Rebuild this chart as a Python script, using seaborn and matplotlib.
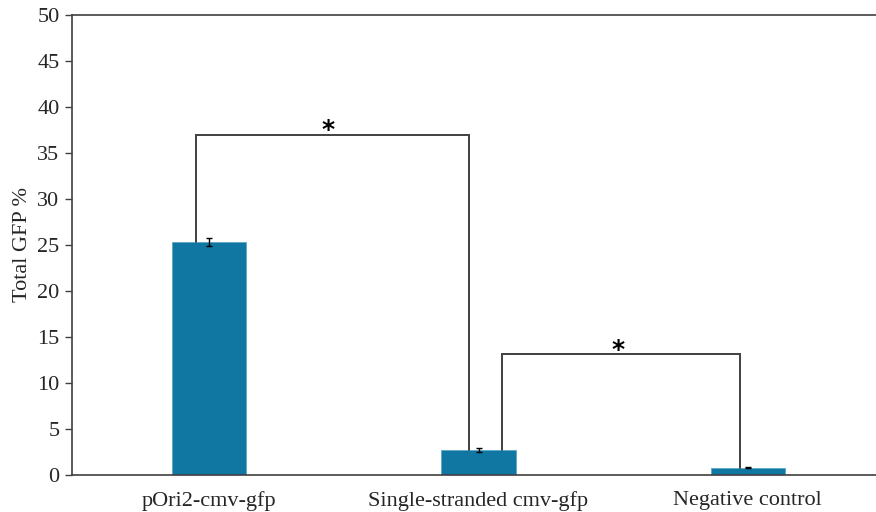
import matplotlib
matplotlib.use("Agg")
import matplotlib.pyplot as plt
import seaborn as sns
import pandas as pd

categories = ["pOri2-cmv-gfp", "Single-stranded cmv-gfp", "Negative control"]
values = [25.3, 2.7, 0.8]
errors = [0.45, 0.2, 0.05]
yticks = [0, 5, 10, 15, 20, 25, 30, 35, 40, 45, 50]
# brackets: (left category, right category, height)
brackets = [(0, 1, 37.0), (1, 2, 13.1)]

sns.set_style("white")
plt.rcParams['font.family'] = ['Liberation Serif', 'DejaVu Serif']

df = pd.DataFrame({"cat": categories, "val": values})
fig = plt.figure(figsize=(8.76, 5.12), dpi=100)
ax = fig.add_axes([72/876, 37/512, 813/876, 460/512])
sns.barplot(data=df, x="cat", y="val", color="#0F77A1", width=0.275, ax=ax,
            errorbar=None, saturation=1)
for b in ax.patches:
    b.set_edgecolor("#5aa8c8")
    b.set_linewidth(0.6)
ax.errorbar(range(len(values)), values, yerr=errors, fmt="none", ecolor="black",
            elinewidth=1.0, capsize=2.5, capthick=1.0)

offs = [(-0.048, -0.037), (0.089, -0.03)]
star_x = [0.44, 1.52]
for (a, b, h), (oa, ob), sx in zip(brackets, offs, star_x):
    xa, xb = a + oa, b + ob
    ax.plot([xa, xa, xb, xb], [values[a], h, h, values[b]], color="#404040", lw=1.4,
            solid_joinstyle="miter")
    ax.text(sx, h + 0.45, "*", ha="center", va="center", fontsize=18,
            fontweight="bold", color="black", family="DejaVu Sans")

ax.set_ylim(0, 50)
ax.set_xlim(-0.51, 2.51)
ax.set_yticks(yticks)
ax.set_yticklabels([str(t) for t in yticks], fontsize=16)
ax.set_xticks(range(len(categories)))
ax.set_xticklabels(categories, fontsize=16)
ax.tick_params(axis="y", left=True, length=5, width=1, color="#404040", pad=4)
ax.tick_params(axis="x", bottom=False, pad=8)
ax.set_xlabel("")
ax.set_ylabel("Total GFP %", fontsize=16, labelpad=4)
for s in ["left", "top", "bottom", "right"]:
    ax.spines[s].set_visible(True)
    ax.spines[s].set_color("#404040")
    ax.spines[s].set_linewidth(1.2)

fig.savefig("out.png", dpi=100)
